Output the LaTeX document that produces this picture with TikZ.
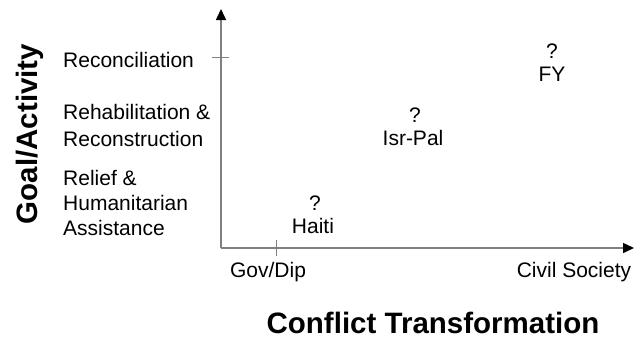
\documentclass[tikz,border=0pt]{standalone}
\usepackage{fontspec}
\setmainfont{Liberation Sans}
\usetikzlibrary{arrows.meta}
\tikzset{
  axisline/.style={draw=black!50, line width=1.5pt, -{Triangle[color=black, width=10pt, length=11pt]}},
  tickline/.style={draw=black!50, line width=1pt},
  lbl/.style={inner sep=0pt, anchor=base west, font=\fontsize{21}{25}\selectfont},
  pt/.style={inner sep=0pt, anchor=base, font=\fontsize{21}{25}\selectfont},
  ttl/.style={inner sep=0pt, anchor=base, font=\fontsize{29.5}{34}\selectfont\bfseries}
}
\begin{document}
\begin{tikzpicture}[x=1pt,y=-1pt]
\useasboundingbox (0,0) rectangle (634,338);
\coordinate (o) at (221,248);
\coordinate (ytop) at (221,9);
\coordinate (xend) at (634,248);
\draw[axisline] (o) -- (ytop);
\draw[axisline] (o) -- (xend);
\coordinate (yt1) at (212,57);
\coordinate (yt2) at (229,57);
\coordinate (xt1) at (276.7,240);
\coordinate (xt2) at (276.7,256);
\draw[tickline] (yt1) -- (yt2);
\draw[tickline] (xt1) -- (xt2);
% y labels
\node[lbl] (rec) at (63,67.3) {Reconciliation};
\node[lbl] (reh1) at (63,119.3) {Rehabilitation \&};
\node[lbl] (reh2) at (63,146) {Reconstruction};
\node[lbl] (rel1) at (63,185) {Relief \&};
\node[lbl] (rel2) at (63,210.7) {Humanitarian};
\node[lbl] (rel3) at (63,235.7) {Assistance};
% x labels
\node[pt] (gov) at (268,277) {Gov/Dip};
\node[pt] (civ) at (574,277) {Civil Society};
% points
\node[pt] (q1) at (315,210) {?};
\node[pt] (haiti) at (313,233) {Haiti};
\node[pt] (q2) at (415,122) {?};
\node[pt] (isr) at (413,145) {Isr-Pal};
\node[pt] (q3) at (552,58) {?};
\node[pt] (fy) at (552,81) {FY};
% titles
\node[ttl] (xt) at (433,333) {Conflict Transformation};
\node[ttl, rotate=90] (yt) at (37,134) {Goal/Activity};
\end{tikzpicture}
\end{document}
